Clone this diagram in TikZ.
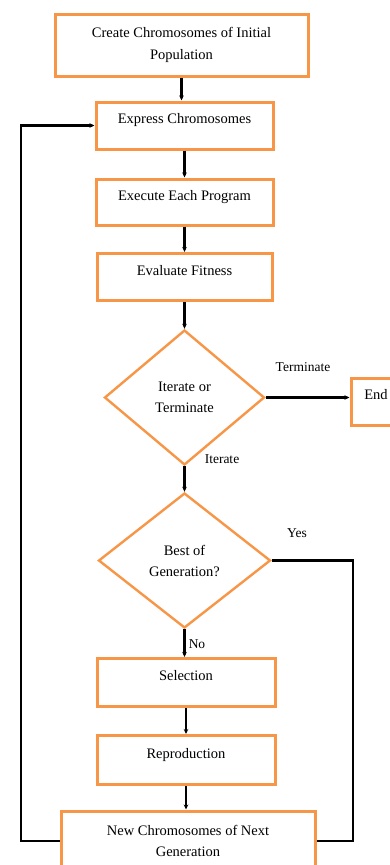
\documentclass[tikz,border=0pt]{standalone}
\usepackage{fontspec}
\setmainfont{Liberation Serif}
\usetikzlibrary{shapes.geometric, arrows.meta}
\definecolor{boxorange}{RGB}{247,150,70}

\begin{document}
\begin{tikzpicture}[x = 1pt, y = -1pt, >={Stealth[length = 5pt, width = 4.5pt]},
		stepbox/.style = {draw = boxorange, line width = 3pt, align = center, inner sep = 0pt, font = \fontsize{14.5}{21.5}\selectfont},
		uptext/.style = {text height = 10pt, text depth = 14pt},
		choice/.style = {diamond, draw = boxorange, line width = 2.4pt, align = center, inner sep = 0pt, font = \fontsize{14.5}{21}\selectfont},
		flow/.style = {->, line width = 2.3pt},
		tag/.style = {font = \fontsize{13.5}{16}\selectfont}]
				\useasboundingbox (0, 0) rectangle (389, 865);
				
				% boxes
				\node[stepbox, minimum width = 253pt, minimum height = 62pt] (init) at (181.5, 45) {Create Chromosomes of Initial\\Population};
				\node[stepbox, uptext, minimum width = 177pt, minimum height = 47pt] (express) at (184.5, 125.5) {Express Chromosomes};
				\node[stepbox, uptext, minimum width = 177pt, minimum height = 46pt] (execute) at (184.5, 202) {Execute Each Program};
				\node[stepbox, uptext, minimum width = 175pt, minimum height = 47pt] (evaluate) at (184.5, 277) {Evaluate Fitness};
				\node[stepbox, uptext, minimum width = 50pt, minimum height = 47pt] (end) at (376, 401.5) {End};
				\node[stepbox, uptext, minimum width = 178pt, minimum height = 48pt] (select) at (186, 682.5) {Selection};
				\node[stepbox, uptext, minimum width = 178pt, minimum height = 49pt] (reprod) at (186, 760) {Reproduction};
				\node[stepbox, minimum width = 254pt, minimum height = 60pt] (newgen) at (188, 841) {New Chromosomes of Next\\Generation};
				
				% decisions
				\node[choice, minimum width = 160pt, minimum height = 135pt] (iterate) at (184.5, 397.5) {Iterate or\\Terminate};
				\node[choice, minimum width = 172pt, minimum height = 135pt] (best) at (184.5, 560.5) {Best of\\Generation?};
				
				% rails
				\coordinate (leftrail) at (21, 0);
				\coordinate (rightrail) at (353, 0);
				
				% arrows
				\draw[flow] (init.south) -- (init.south |- express.north);
				\draw[flow] (express) -- (execute);
				\draw[flow] (execute) -- (evaluate);
				\draw[flow] (evaluate) -- (iterate);
				\draw[flow] (iterate.east) -- (iterate.east -| end.west);
				\draw[flow] (iterate) -- (best);
				\draw[flow] (best.south) -- (best.south |- select.north);
				\draw[flow] (select) -- (reprod);
				\draw[flow] (reprod.south) -- (reprod.south |- newgen.north);
				\draw[flow] (newgen.west) -- (newgen.west -| leftrail) |- (express.west);
				\draw[line width = 2.3pt] (best.east) -- (best.east -| rightrail) |- (newgen.east);
				
				% labels
				\node[tag] (termlabel) at (303, 367) {Terminate};
				\node[tag] (iterlabel) at (222, 459) {Iterate};
				\node[tag] (yeslabel) at (297, 533) {Yes};
				\node[tag] (nolabel) at (197, 644) {No};
				
			\end{tikzpicture}
\end{document}
